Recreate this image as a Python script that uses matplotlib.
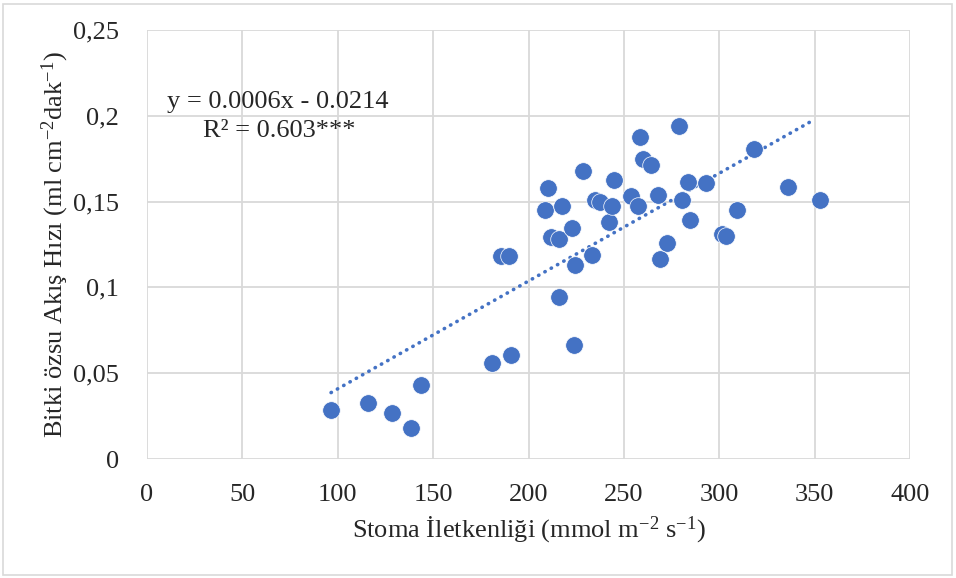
import numpy as np
import matplotlib.pyplot as plt
from matplotlib.patches import Rectangle

plt.rcParams['font.family'] = ['Liberation Serif', 'DejaVu Serif']
plt.rcParams['mathtext.fontset'] = 'custom'
plt.rcParams['mathtext.rm'] = 'Liberation Serif'
plt.rcParams['mathtext.it'] = 'Liberation Serif:italic'

# Stoma iletkenliği (x) ve bitki özsu akış hızı (y)
stoma = [96.5, 115.8, 128.6, 138.4, 143.6, 180.9, 191.0, 216.1, 224.0,
         185.8, 189.6, 210.4, 208.9, 211.6, 216.0, 217.7, 222.9, 228.6,
         224.6, 233.3, 234.7, 237.3, 242.2, 243.7, 244.8, 253.5, 257.6,
         258.5, 260.0, 264.2, 268.0, 268.8, 272.6, 279.0, 280.7, 283.5,
         284.7, 293.0, 301.2, 303.3, 309.2, 318.0, 336.3, 353.0]
akis = [0.0285, 0.0327, 0.0269, 0.0182, 0.0430, 0.0560, 0.0607, 0.0946, 0.0665,
        0.1182, 0.1182, 0.1580, 0.1453, 0.1292, 0.1283, 0.1477, 0.1347, 0.1680,
        0.1130, 0.1188, 0.1510, 0.1500, 0.1382, 0.1475, 0.1626, 0.1535, 0.1477,
        0.1874, 0.1748, 0.1715, 0.1537, 0.1163, 0.1258, 0.1940, 0.1510, 0.1616,
        0.1394, 0.1609, 0.1312, 0.1302, 0.1450, 0.1804, 0.1583, 0.1512]

# trend çizgisi (Excel doğrusal eğilim)
egim = 0.000628
kesisim = -0.0219

renk = '#4472C4'
yazi = '#262626'
fs = 19

fig = plt.figure(figsize=(9.56, 5.78), dpi=100)
ax = fig.add_axes([147/956, 1-459/578, (910-147)/956, (459-30)/578])

x = np.array(stoma)
y = np.array(akis)
ax.scatter(x, y, s=160, color=renk, edgecolors='white', linewidths=0.5, zorder=3)

xt = np.array([x.min(), 350])
ax.plot(xt, egim*xt + kesisim, linestyle=(0, (0.1, 1.9)), dash_capstyle='round',
        color=renk, linewidth=2.6, zorder=2)

ax.set_xlim(0, 400)
ax.set_ylim(0, 0.25)
ax.set_xticks(np.arange(0, 401, 50))
ax.set_yticks([0, 0.05, 0.1, 0.15, 0.2, 0.25])
ax.set_yticklabels(['0', '0,05', '0,1', '0,15', '0,2', '0,25'])
ax.grid(True, color='#d9d9d9', linewidth=1.3)
ax.set_axisbelow(True)
for s in ax.spines.values():
    s.set_visible(False)
ax.tick_params(length=0, labelsize=fs, colors=yazi)
ax.tick_params(axis='x', pad=18)
ax.tick_params(axis='y', pad=20)

ax.set_xlabel('Stoma İletkenliği (mmol m$^{\\mathregular{-2}}$ s$^{\\mathregular{-1}}$)',
              fontsize=fs, color=yazi, labelpad=6)
ax.set_ylabel('Bitki özsu Akış Hızı (ml cm$^{\\mathregular{-2}}$dak$^{\\mathregular{-1}}$)',
              fontsize=fs, color=yazi, va='center')
ax.yaxis.set_label_coords((55-147)/763, 0.5)

fig.text(167/956, 1-102/578, 'y = 0.0006x - 0.0214', fontsize=fs, color=yazi, va='center')
fig.text(203/956, 1-131/578, 'R² = 0.603***', fontsize=fs, color=yazi, va='center')

fig.patches.append(Rectangle((3/956, 3/578), 949/956, 571/578, transform=fig.transFigure,
                             fill=False, edgecolor='#d9d9d9', linewidth=1.2))

fig.savefig('out.png', dpi=100)
